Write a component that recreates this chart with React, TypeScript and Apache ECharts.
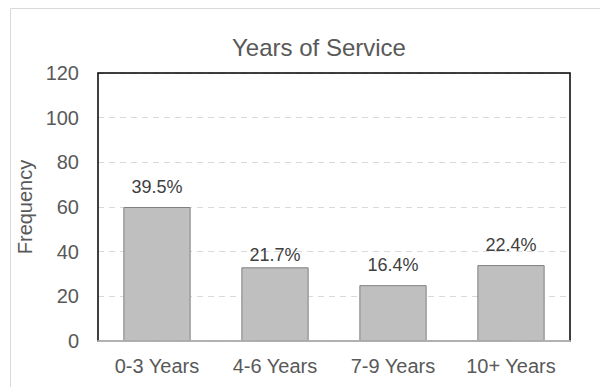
import React, { useEffect, useRef } from "react";
import * as echarts from "echarts";

const categories = ["0-3 Years", "4-6 Years", "7-9 Years", "10+ Years"];
const frequencies = [60, 33, 25, 34];
const percentLabels = ["39.5%", "21.7%", "16.4%", "22.4%"];
const yTicks = [0, 20, 40, 60, 80, 100, 120];

export default function App() {
  const ref = useRef<HTMLDivElement>(null);
  useEffect(() => {
    if (!ref.current) return;
    const chart = echarts.init(ref.current, null, { renderer: "svg" });
    const font = "Liberation Sans, Arial, sans-serif";
    const seriesData = frequencies.map((v, i) =>
      i === 1 ? { value: v, label: { distance: 3 } } : { value: v }
    );
    chart.setOption({
      animation: false,
      backgroundColor: "#ffffff",
      textStyle: { fontFamily: font },
      title: {
        text: "Years of Service",
        left: 314,
        textAlign: "center",
        top: 30,
        textStyle: { fontFamily: font, fontSize: 24, fontWeight: "normal", color: "#595959" },
      },
      graphic: [
        {
          type: "rect",
          shape: { x: 10.5, y: 8.5, width: 620, height: 420 },
          style: { fill: "none", stroke: "#d9d9d9", lineWidth: 1 },
          silent: true,
          z: -10,
        },
      ],
      grid: {
        left: 98,
        right: 30,
        top: 73,
        bottom: 46,
        show: true,
        borderColor: "#000000",
        borderWidth: 1.5,
        backgroundColor: "transparent",
        z: 10,
      },
      xAxis: {
        type: "category",
        data: categories,
        axisLine: { show: true, lineStyle: { color: "#d9d9d9", width: 1.5 } },
        axisTick: { show: false },
        axisLabel: { color: "#595959", fontSize: 20, fontFamily: font, margin: 15 },
        z: 12,
      },
      yAxis: {
        type: "value",
        min: yTicks[0],
        max: yTicks[yTicks.length - 1],
        interval: 20,
        name: "Frequency",
        nameLocation: "middle",
        nameGap: 62,
        nameRotate: 90,
        nameTextStyle: { color: "#595959", fontSize: 20, fontFamily: font },
        axisLine: { show: false },
        axisTick: { show: false },
        axisLabel: { color: "#595959", fontSize: 20, fontFamily: font, margin: 19 },
        splitLine: { show: true, lineStyle: { color: "#d9d9d9", type: [6, 5], width: 1 } },
        z: 1,
      },
      series: [
        {
          type: "bar",
          data: seriesData,
          barWidth: "57%",
          itemStyle: { color: "#bfbfbf", borderColor: "#808080", borderWidth: 1 },
          label: {
            show: true,
            position: "top",
            distance: 11,
            color: "#404040",
            fontSize: 18,
            fontFamily: font,
            formatter: (p: any) => percentLabels[p.dataIndex],
          },
        },
      ],
    });
    return () => chart.dispose();
  }, []);
  return (
    <div
      ref={ref}
      style={{ position: "absolute", left: 0, top: 0, width: 600, height: 387 }}
    />
  );
}
